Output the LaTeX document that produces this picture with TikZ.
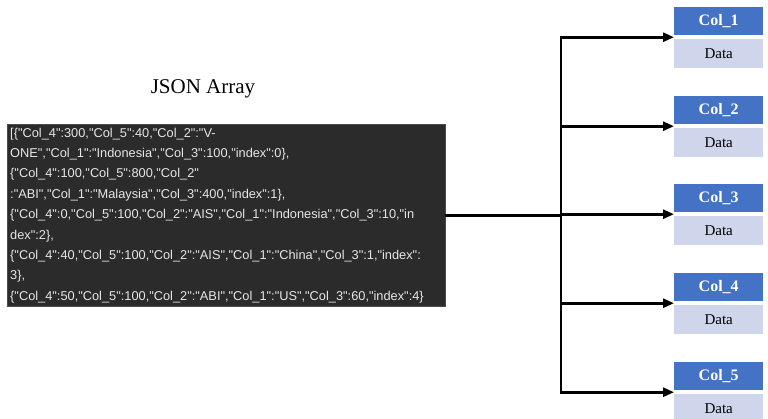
\documentclass[tikz,border=0pt]{standalone}
\usepackage{fontspec}
\setmainfont{Liberation Serif}
\newfontfamily\jsonfont{Liberation Sans}
\usetikzlibrary{arrows.meta,calc}
\definecolor{hdrblue}{HTML}{4472C4}
\definecolor{datablue}{HTML}{CFD5EA}
\definecolor{codebg}{HTML}{2B2B2B}
\definecolor{codefg}{HTML}{E6E6E6}
\tikzset{
  hdr/.style={fill=hdrblue, text=white, font=\fontsize{16}{18}\selectfont\bfseries,
    minimum width=89pt, minimum height=28pt, inner sep=0pt, anchor=north west},
  databox/.style={fill=datablue, text=black, font=\fontsize{15}{17}\selectfont,
    minimum width=89pt, minimum height=29pt, inner sep=0pt, anchor=north west},
  jsonbox/.style={fill=codebg, draw=gray!60!black, text=codefg, align=left,
    text width=432pt, inner xsep=3pt, inner ysep=3.6pt, anchor=north west,
    font=\jsonfont\fontsize{12.8}{20.4}\selectfont},
  wire/.style={line width=2.6pt, black},
  arr/.style={wire, -{Triangle[length=11pt,width=9pt]}, shorten >=0pt}
}
\begin{document}
\begin{tikzpicture}[x=1pt,y=-1pt]
\useasboundingbox (0,0) rectangle (768,418);
\node[font=\fontsize{21}{24}\selectfont] (title) at (203,89) {JSON Array};
\node[jsonbox] (json) at (7,124) {%
[\{"Col\_4":300,"Col\_5":40,"Col\_2":"V-\\
ONE","Col\_1":"Indonesia","Col\_3":100,"index":0\},\\
\{"Col\_4":100,"Col\_5":800,"Col\_2"\\
:"ABI","Col\_1":"Malaysia","Col\_3":400,"index":1\},\\
\{"Col\_4":0,"Col\_5":100,"Col\_2":"AIS","Col\_1":"Indonesia","Col\_3":10,"in\\
dex":2\},\\
\{"Col\_4":40,"Col\_5":100,"Col\_2":"AIS","Col\_1":"China","Col\_3":1,"index":\\
3\},\\
\{"Col\_4":50,"Col\_5":100,"Col\_2":"ABI","Col\_1":"US","Col\_3":60,"index":4\}};
\foreach \i/\t in {1/7,2/96,3/184,4/273,5/362}{
  \node[hdr] (h\i) at (674,\t) {Col\_\i};
  \node[databox] (d\i) at (674,\t+32) {Data};
  \coordinate (g\i) at ($(h\i.south west)!0.5!(d\i.north west)$);
}
\coordinate (bustop) at (561,37);
\coordinate (busbot) at (561,392);
\draw[wire] (json.east) -- (json.east -| bustop);
\draw[wire, line cap=rect] (bustop |- g1) -- (bustop |- g5);
\foreach \i in {1,...,5}{
  \draw[arr] (bustop |- g\i) -- (g\i);
}
\end{tikzpicture}
\end{document}
